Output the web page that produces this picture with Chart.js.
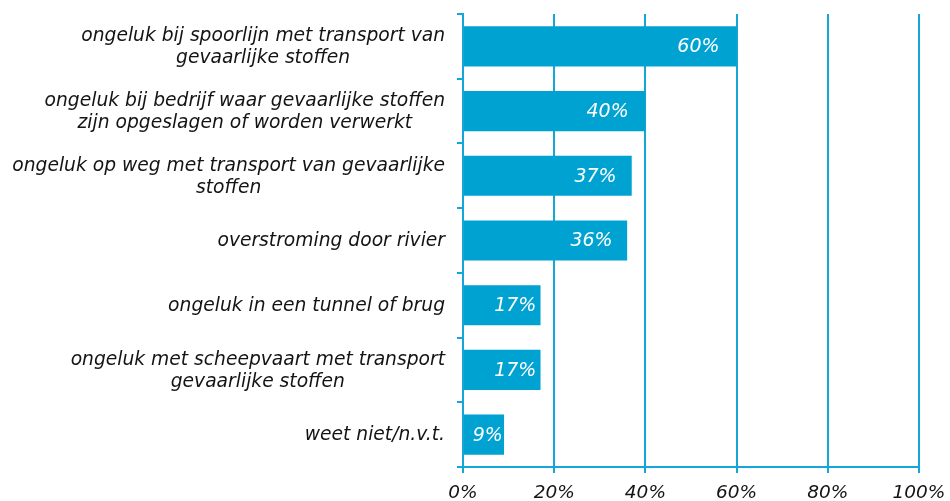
<!DOCTYPE html>
<html lang="nl">
<head>
  <meta charset="UTF-8">
  <title>Ongelukken</title>
  <style>
    body { margin: 0; padding: 0; background: #fff; }
    #wrap { width: 950px; height: 501px; }
  </style>
  <script src="https://cdn.jsdelivr.net/npm/chart.js"></script>
</head>
<body>
  <div id="wrap"><canvas id="chart" width="950" height="501"></canvas></div>
  <script>
    const categories = [
      ['ongeluk bij spoorlijn met transport van', 'gevaarlijke stoffen'],
      ['ongeluk bij bedrijf waar gevaarlijke stoffen', 'zijn opgeslagen of worden verwerkt'],
      ['ongeluk op weg met transport van gevaarlijke', 'stoffen'],
      ['overstroming door rivier'],
      ['ongeluk in een tunnel of brug'],
      ['ongeluk met scheepvaart met transport', 'gevaarlijke stoffen'],
      ['weet niet/n.v.t.']
    ];
    const values = [60, 40, 37, 36, 17, 17, 9];
    const xTicks = [0, 20, 40, 60, 80, 100];

    const barColor = '#00a2d2';
    const lineColor = '#14a6d6';
    const fontFamily = '"DejaVu Sans", Verdana, sans-serif';

    // category labels and value labels, drawn from the scales
    const labelPlugin = {
      id: 'labels',
      afterDraw(chart) {
        const ctx = chart.ctx;
        const y = chart.scales.y;
        const area = chart.chartArea;
        ctx.save();
        ctx.font = 'italic 18.7px ' + fontFamily;
        ctx.fillStyle = '#141414';
        ctx.textAlign = 'center';
        ctx.textBaseline = 'middle';
        const lh = 22;
        categories.forEach((lines, i) => {
          const cy = y.getPixelForValue(i);
          const w = Math.max(...lines.map(l => ctx.measureText(l).width));
          const cx = area.left - 18 - w / 2;
          const top = cy - (lines.length - 1) * lh / 2 + 1;
          lines.forEach((l, j) => ctx.fillText(l, cx, top + j * lh));
        });

        ctx.font = 'italic 19px ' + fontFamily;
        ctx.fillStyle = '#fff';
        ctx.textAlign = 'right';
        const meta = chart.getDatasetMeta(0);
        meta.data.forEach((bar, i) => {
          const txt = values[i] + '%';
          const tw = ctx.measureText(txt).width;
          const bw = bar.x - bar.base;
          const pad = Math.min(17, (bw - tw) * 0.12);
          ctx.fillText(txt, bar.x - pad, bar.y + 1);
        });
        ctx.restore();
      }
    };

    new Chart(document.getElementById('chart'), {
      type: 'bar',
      data: {
        labels: categories.map(c => c.join(' ')),
        datasets: [{
          data: values,
          backgroundColor: barColor,
          borderWidth: 0,
          barPercentage: 0.62,
          categoryPercentage: 1
        }]
      },
      options: {
        indexAxis: 'y',
        responsive: false,
        animation: false,
        layout: { padding: { left: 457, right: 31, top: 14, bottom: 0 } },
        plugins: {
          legend: { display: false },
          tooltip: { enabled: false }
        },
        scales: {
          x: {
            min: 0,
            max: 100,
            afterBuildTicks(scale) {
              scale.ticks = xTicks.map(v => ({ value: v }));
            },
            afterFit(scale) {
              scale.height = 34;
              scale.paddingLeft = 0;
              scale.paddingRight = 0;
            },
            border: { display: true, color: lineColor, width: 2 },
            grid: { color: lineColor, lineWidth: 2, tickLength: 6 },
            ticks: {
              padding: 11,
              color: '#141414',
              font: { family: fontFamily, size: 18.5, style: 'italic', lineHeight: 1 },
              callback: v => v + '%'
            }
          },
          y: {
            border: { display: true, color: lineColor, width: 2 },
            grid: {
              offset: true,
              drawOnChartArea: false,
              color: lineColor,
              lineWidth: 2,
              tickLength: 6
            },
            ticks: { display: false }
          }
        }
      },
      plugins: [labelPlugin]
    });
  </script>
</body>
</html>
